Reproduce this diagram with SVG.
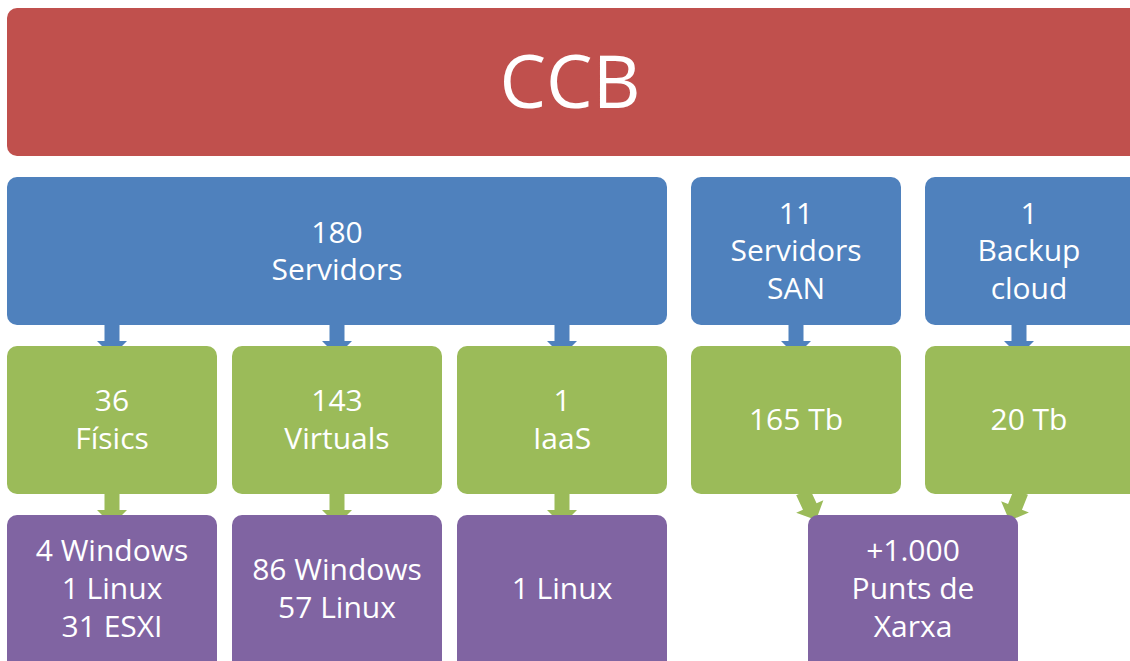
<svg xmlns="http://www.w3.org/2000/svg" width="1130" height="661" viewBox="0 0 1130 661">
<defs>
<style>
.r{fill:#C0504D}.b{fill:#4F81BD}.g{fill:#9BBB59}.p{fill:#8064A2}
text{fill:#fff;font-family:"Open Sans","Noto Sans",sans-serif;font-size:30px;text-anchor:middle}
.big{font-size:74px}
.ab{fill:#4F81BD}.ag{fill:#9BBB59}
</style>
<path id="arr" d="M-7.5,0 H7.5 V16 H15 L0,31 L-15,16 H-7.5 Z"/>
</defs>
<rect width="1130" height="661" fill="#fff"/>
<g id="connectors">
<use href="#arr" class="ab" x="112" y="325"/>
<use href="#arr" class="ab" x="337" y="325"/>
<use href="#arr" class="ab" x="562" y="325"/>
<use href="#arr" class="ab" x="796" y="325"/>
<use href="#arr" class="ab" x="1019" y="325"/>
<use href="#arr" class="ag" x="112" y="494"/>
<use href="#arr" class="ag" x="337" y="494"/>
<use href="#arr" class="ag" x="562" y="494"/>
<use href="#arr" class="ag" transform="translate(803,492) rotate(-25)"/>
<use href="#arr" class="ag" transform="translate(1021,492) rotate(22)"/>
</g>
<g id="ccb"><rect class="r" x="7" y="8" width="1135" height="148" rx="10"/><text class="big" x="570" y="108">CCB</text></g>
<g id="servidors"><rect class="b" x="7" y="177" width="660" height="148" rx="10"/><text x="337" y="243">180</text><text x="337" y="280">Servidors</text></g>
<g id="san"><rect class="b" x="691" y="177" width="210" height="148" rx="10"/><text x="796" y="224">11</text><text x="796" y="261">Servidors</text><text x="796" y="299">SAN</text></g>
<g id="backup"><rect class="b" x="925" y="177" width="215" height="148" rx="10"/><text x="1029" y="224">1</text><text x="1029" y="261">Backup</text><text x="1029" y="299">cloud</text></g>
<g id="fisics"><rect class="g" x="7" y="346" width="210" height="148" rx="10"/><text x="112" y="411">36</text><text x="112" y="449">Físics</text></g>
<g id="virtuals"><rect class="g" x="232" y="346" width="210" height="148" rx="10"/><text x="337" y="411">143</text><text x="337" y="449">Virtuals</text></g>
<g id="iaas"><rect class="g" x="457" y="346" width="210" height="148" rx="10"/><text x="562" y="411">1</text><text x="562" y="449">IaaS</text></g>
<g id="tb165"><rect class="g" x="691" y="346" width="210" height="148" rx="10"/><text x="796" y="430">165 Tb</text></g>
<g id="tb20"><rect class="g" x="925" y="346" width="215" height="148" rx="10"/><text x="1029" y="430">20 Tb</text></g>
<g id="os-fisics"><rect class="p" x="7" y="515" width="210" height="160" rx="10"/><text x="112" y="561">4 Windows</text><text x="112" y="599">1 Linux</text><text x="112" y="637">31 ESXI</text></g>
<g id="os-virtuals"><rect class="p" x="232" y="515" width="210" height="160" rx="10"/><text x="337" y="580">86 Windows</text><text x="337" y="618">57 Linux</text></g>
<g id="os-iaas"><rect class="p" x="457" y="515" width="210" height="160" rx="10"/><text x="562" y="599">1 Linux</text></g>
<g id="xarxa"><rect class="p" x="808" y="515" width="210" height="160" rx="10"/><text x="913" y="561">+1.000</text><text x="913" y="599">Punts de</text><text x="913" y="637">Xarxa</text></g>
</svg>
